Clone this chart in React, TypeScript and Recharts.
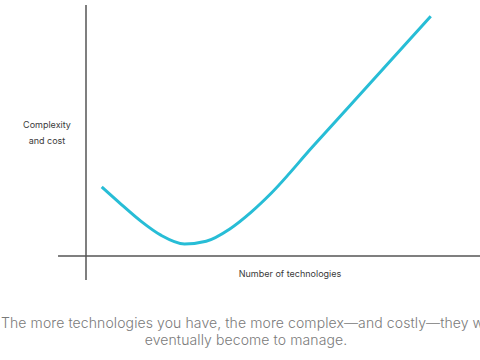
import React from 'react';
import { LineChart, Line, XAxis, YAxis, ReferenceLine } from 'recharts';

// Curve (abstract 0-100 units on both axes)
const technologies = [4, 9, 14, 19, 25, 30.5, 36.5, 42, 47, 57.5, 72, 87.5];
const complexity = [27.5, 20.5, 13.8, 8.3, 4.8, 5.9, 10.8, 17.6, 25, 43.5, 68.6, 95.5];

const yAxisLabel = ['Complexity', 'and cost'];
const xAxisLabel = 'Number of technologies';
const captionLine1 = 'The more technologies you have, the more complex\u2014and costly\u2014they will';
const captionLine2 = 'eventually become to manage.';

const data = technologies.map((x, i) => ({ x, y: complexity[i] }));

const font = 'Inter, "Open Sans", sans-serif';

export default function App() {
  return (
    <div
      style={{
        position: 'absolute',
        left: 0,
        top: 0,
        width: 480,
        height: 360,
        overflow: 'hidden',
        background: '#fff',
        fontFamily: font,
      }}
    >
      <LineChart width={480} height={300} data={data} margin={{ top: 5, right: 0, left: 86, bottom: 44 }}>
        <XAxis type="number" dataKey="x" domain={[0, 100]} hide />
        <YAxis type="number" domain={[0, 100]} hide />
        {/* axes drawn as crossing lines that overshoot the plot */}
        <ReferenceLine
          segment={[{ x: 0, y: -9.6 }, { x: 0, y: 100 }]}
          stroke="#555"
          strokeWidth={1.5}
          ifOverflow="visible"
        />
        <ReferenceLine
          segment={[{ x: -7.1, y: 0 }, { x: 100, y: 0 }]}
          stroke="#555"
          strokeWidth={1.5}
          ifOverflow="visible"
        />
        <Line
          type="monotone"
          dataKey="y"
          stroke="#27bdd6"
          strokeWidth={3}
          dot={false}
          isAnimationActive={false}
        />
      </LineChart>

      <div
        style={{
          position: 'absolute',
          left: 7,
          top: 117,
          width: 80,
          textAlign: 'center',
          fontSize: 9,
          lineHeight: '16px',
          color: '#3a3a3a',
        }}
      >
        {yAxisLabel.map((t) => (
          <div key={t}>{t}</div>
        ))}
      </div>

      <div
        style={{
          position: 'absolute',
          left: 190,
          top: 268,
          width: 200,
          textAlign: 'center',
          fontSize: 9,
          color: '#3a3a3a',
        }}
      >
        {xAxisLabel}
      </div>

      <div
        style={{
          position: 'absolute',
          left: 1,
          top: 314,
          whiteSpace: 'nowrap',
          fontSize: 14,
          letterSpacing: 0.1,
          color: '#7a7a7a',
          fontWeight: 300,
        }}
      >
        {captionLine1}
      </div>
      <div
        style={{
          position: 'absolute',
          left: 6,
          top: 331,
          width: 480,
          textAlign: 'center',
          fontSize: 14,
          letterSpacing: 0.1,
          color: '#7a7a7a',
          fontWeight: 300,
        }}
      >
        {captionLine2}
      </div>
    </div>
  );
}
